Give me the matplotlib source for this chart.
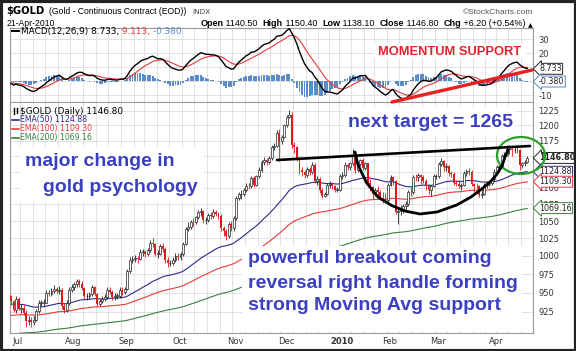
import numpy as np
import pandas as pd
import matplotlib
matplotlib.use('Agg')
import matplotlib.pyplot as plt
from matplotlib.patches import Rectangle, Ellipse

# daily closes / highs / lows, month by month (Jun 29 2009 - Apr 21 2010)
first_open = 945.0
c_jun = [939, 927]
h_jun = [947, 941]
l_jun = [934, 925]
c_jul = [942, 929, 930, 924, 913, 914, 912, 915, 926, 937, 937, 937, 950, 948, 952, 955, 952, 954, 932, 927, 937, 954]
h_jul = [945, 944, 935, 934, 927, 920, 918, 919, 929, 940, 941, 942, 953, 954, 956, 960, 958, 959, 956, 936, 941, 957]
l_jul = [924, 927, 924, 921, 906, 908, 905, 908, 913, 923, 932, 933, 936, 945, 946, 949, 949, 948, 929, 923, 925, 934]
c_aug = [957, 961, 966, 962, 956, 945, 946, 948, 957, 948, 935, 939, 942, 944, 953, 951, 944, 946, 946, 954, 951]
h_aug = [961, 964, 969, 968, 966, 958, 950, 951, 960, 959, 949, 942, 946, 948, 957, 958, 953, 949, 950, 957, 958]
l_aug = [951, 954, 958, 958, 953, 942, 941, 942, 946, 945, 932, 933, 936, 939, 942, 948, 941, 940, 942, 943, 947]
c_sep = [955, 979, 995, 996, 997, 996, 1006, 1006, 1003, 1008, 1019, 1017, 1003, 1003, 1014, 1010, 995, 990, 990, 994, 1000]
h_sep = [958, 982, 999, 1000, 1001, 1000, 1010, 1010, 1008, 1011, 1023, 1025, 1019, 1008, 1017, 1018, 1012, 998, 995, 998, 1004]
l_sep = [948, 954, 977, 990, 991, 990, 995, 1000, 998, 1000, 1006, 1012, 1000, 997, 1001, 1006, 990, 985, 986, 987, 992]
c_oct = [998, 1003, 1017, 1039, 1042, 1049, 1048, 1056, 1063, 1065, 1051, 1051, 1059, 1058, 1064, 1061, 1057, 1040, 1035, 1028, 1045, 1040]
h_oct = [1004, 1006, 1020, 1042, 1048, 1052, 1054, 1058, 1066, 1070, 1067, 1056, 1062, 1064, 1068, 1067, 1064, 1061, 1043, 1039, 1048, 1050]
l_oct = [994, 994, 1000, 1015, 1035, 1038, 1043, 1045, 1053, 1058, 1047, 1046, 1049, 1053, 1055, 1057, 1053, 1036, 1028, 1023, 1026, 1036]
c_nov = [1055, 1085, 1090, 1090, 1096, 1103, 1102, 1115, 1104, 1118, 1128, 1140, 1143, 1141, 1146, 1164, 1166, 1187, 1175, 1181]
h_nov = [1058, 1088, 1094, 1096, 1099, 1107, 1107, 1118, 1118, 1120, 1132, 1143, 1148, 1146, 1150, 1167, 1171, 1192, 1194, 1184]
l_nov = [1036, 1052, 1082, 1083, 1087, 1093, 1098, 1100, 1101, 1102, 1115, 1125, 1135, 1135, 1137, 1144, 1160, 1164, 1142, 1170]
c_dec = [1200, 1215, 1218, 1168, 1164, 1146, 1127, 1124, 1120, 1129, 1125, 1136, 1110, 1113, 1096, 1088, 1091, 1105, 1106, 1102, 1097, 1097]
h_dec = [1203, 1218, 1227, 1222, 1172, 1166, 1148, 1132, 1128, 1132, 1132, 1140, 1138, 1118, 1116, 1099, 1094, 1107, 1110, 1109, 1105, 1101]
l_dec = [1179, 1197, 1212, 1163, 1155, 1142, 1122, 1118, 1115, 1117, 1120, 1122, 1107, 1104, 1092, 1084, 1086, 1089, 1100, 1098, 1093, 1093]
c_jan = [1118, 1119, 1136, 1133, 1138, 1150, 1128, 1137, 1143, 1131, 1138, 1108, 1101, 1090, 1097, 1094, 1085, 1084, 1081]
h_jan = [1122, 1124, 1140, 1139, 1141, 1161, 1152, 1140, 1145, 1146, 1141, 1139, 1113, 1103, 1100, 1102, 1097, 1093, 1092]
l_jan = [1095, 1114, 1116, 1127, 1127, 1136, 1123, 1125, 1134, 1128, 1128, 1104, 1095, 1083, 1087, 1089, 1081, 1077, 1077]
c_feb = [1105, 1117, 1111, 1063, 1065, 1067, 1072, 1075, 1094, 1093, 1117, 1116, 1119, 1117, 1111, 1103, 1097, 1103, 1118]
h_feb = [1107, 1120, 1118, 1112, 1068, 1074, 1075, 1080, 1097, 1101, 1120, 1121, 1123, 1121, 1119, 1113, 1106, 1105, 1121]
l_feb = [1078, 1102, 1105, 1060, 1045, 1059, 1062, 1066, 1072, 1087, 1091, 1110, 1111, 1106, 1108, 1097, 1090, 1087, 1101]
c_mar = [1118, 1137, 1142, 1132, 1134, 1123, 1121, 1108, 1106, 1102, 1105, 1123, 1126, 1125, 1106, 1103, 1102, 1089, 1091, 1105, 1106, 1108, 1113]
h_mar = [1122, 1141, 1146, 1144, 1138, 1136, 1126, 1124, 1112, 1112, 1108, 1126, 1129, 1131, 1128, 1108, 1107, 1104, 1097, 1108, 1110, 1111, 1117]
l_mar = [1113, 1115, 1134, 1126, 1126, 1118, 1116, 1105, 1103, 1100, 1096, 1102, 1118, 1120, 1103, 1093, 1098, 1086, 1085, 1089, 1100, 1102, 1104]
c_apr = [1125, 1132, 1134, 1150, 1152, 1162, 1162, 1159, 1160, 1159, 1136, 1138, 1140.6, 1146.8]
h_apr = [1129, 1135, 1138, 1153, 1156, 1168, 1167, 1163, 1164, 1164, 1162, 1141, 1144, 1150.4]
l_apr = [1111, 1122, 1128, 1133, 1145, 1150, 1153, 1150, 1155, 1154, 1127, 1131, 1134, 1138.1]

holidays = ['2009-07-03', '2009-09-07', '2009-11-26', '2009-12-25',
            '2010-01-01', '2010-01-18', '2010-02-15', '2010-04-02']

ema50_start, ema100_start, ema200_start = 935.0, 920.0, 896.0
ema12_start, ema26_start, signal_start = 940.0, 942.0, -1.0

month_names = ['Jul', 'Aug', 'Sep', 'Oct', 'Nov', 'Dec', '2010', 'Feb', 'Mar', 'Apr']
price_ticks = [925, 950, 975, 1000, 1025, 1050, 1075, 1100, 1125, 1150, 1175, 1200, 1225]
macd_ticks = [-10, 0, 10, 20, 30]
# tick labels that sit fully under the last-value tags
hidden_price = [1125, 1150]
hidden_macd = [0, 10]

closes = np.array(c_jun + c_jul + c_aug + c_sep + c_oct + c_nov + c_dec + c_jan + c_feb + c_mar + c_apr, float)
highs = np.array(h_jun + h_jul + h_aug + h_sep + h_oct + h_nov + h_dec + h_jan + h_feb + h_mar + h_apr, float)
lows = np.array(l_jun + l_jul + l_aug + l_sep + l_oct + l_nov + l_dec + l_jan + l_feb + l_mar + l_apr, float)
opens = np.concatenate([[first_open], closes[:-1]])

dates = pd.bdate_range('2009-06-29', '2010-04-21')
dates = dates[~dates.isin(pd.to_datetime(holidays))]
x = np.arange(len(dates))


def ema(values, span, start):
    k = 2.0 / (span + 1)
    out = []
    e = start
    for v in values:
        e = e + k * (v - e)
        out.append(e)
    return np.array(out)


ema50 = ema(closes, 50, ema50_start)
ema100 = ema(closes, 100, ema100_start)
ema200 = ema(closes, 200, ema200_start)
macd = ema(closes, 12, ema12_start) - ema(closes, 26, ema26_start)
signal = ema(macd, 9, signal_start)
hist = macd - signal

week_starts = [i for i in range(len(dates)) if i == 0 or dates[i].weekday() < dates[i - 1].weekday()]
month_starts = [i for i in range(1, len(dates)) if dates[i].month != dates[i - 1].month]

W, H = 576, 351
fig = plt.figure(figsize=(W / 100, H / 100), dpi=100)


def px_axes(left, top, right, bottom):
    return [left / W, 1 - bottom / H, (right - left) / W, (bottom - top) / H]


grid_c = '#dcdcdc'
spine_c = '#9a9a9a'
blue_txt = '#3a40c0'

# ---- MACD panel
axm = fig.add_axes(px_axes(10, 28, 533, 102))
axm.bar(x, hist, width=0.75, color='#5b8cc8', lw=0, zorder=2)
axm.plot(x, signal, color='#e83a3a', lw=0.8, zorder=3)
axm.plot(x, macd, color='black', lw=1.0, zorder=4)
axm.set_ylim(-15, 37.9)
axm.set_xlim(-0.4, 206.3)
axm.set_yticks(macd_ticks)
axm.set_yticklabels(['' if t in hidden_macd else str(t) for t in macd_ticks])
axm.set_xticks([])
axm.grid(axis='y', color=grid_c, lw=0.6)
for i in week_starts:
    axm.axvline(i - 0.5, color=grid_c, lw=0.6, zorder=0)
axm.set_axisbelow(True)

# ---- price panel
ax = fig.add_axes(px_axes(10, 102, 533, 333))
up = closes >= opens
dn = ~up
ax.vlines(x[up], lows[up], highs[up], color='#222222', lw=0.6, zorder=3)
ax.vlines(x[dn], lows[dn], highs[dn], color='#e01818', lw=0.6, zorder=3)
ax.bar(x[up], np.maximum(closes - opens, 0.8)[up], bottom=opens[up], width=0.75,
       facecolor='white', edgecolor='#222222', lw=0.5, zorder=4)
ax.bar(x[dn], (opens - closes)[dn], bottom=closes[dn], width=0.75,
       color='#e01818', lw=0, zorder=4)
ax.plot(x, ema50, color='#2b2b8f', lw=0.8, zorder=2)
ax.plot(x, ema100, color='#e83a3a', lw=0.8, zorder=2)
ax.plot(x, ema200, color='#3d7f3d', lw=0.8, zorder=2)
ax.set_yscale('log')
ax.set_ylim(898, 1240)
ax.set_xlim(-0.4, 206.3)
ax.set_yticks(price_ticks)
ax.set_yticklabels(['' if t in hidden_price else str(t) for t in price_ticks])
ax.yaxis.set_minor_locator(matplotlib.ticker.NullLocator())
ax.grid(axis='y', color=grid_c, lw=0.6)
for i in week_starts:
    ax.axvline(i - 0.5, color=grid_c, lw=0.6, zorder=0)
ax.set_axisbelow(True)
ax.set_xticks([i + 0.7 for i in month_starts])
ax.set_xticklabels(month_names)
for lab in ax.get_xticklabels():
    if lab.get_text() == '2010':
        lab.set_fontweight('bold')

for a in (ax, axm):
    a.yaxis.tick_right()
    a.tick_params(axis='y', length=0, pad=4, labelsize=6, labelcolor='#333333')
    a.tick_params(axis='x', length=0, pad=3, labelsize=6, labelcolor='#333333')
    for s in a.spines.values():
        s.set_color(spine_c)
        s.set_linewidth(0.8)


def tag(a, y, text, ec, bold=False):
    a.text(1 + 6 / 523, y, text, transform=a.get_yaxis_transform(), ha='left', va='center',
           fontsize=5.8, fontweight='bold' if bold else 'normal', color='#222222',
           bbox=dict(boxstyle='larrow,pad=0.12', fc='white', ec=ec, lw=0.7),
           clip_on=False, zorder=20)


tag(ax, 1146.80, '1146.80', '#222222', bold=True)
tag(ax, 1124.88, '1124.88', '#2b2b8f')
tag(ax, 1109.30, '1109.30', '#e83a3a')
tag(ax, 1069.16, '1069.16', '#3d7f3d')
tag(axm, 8.733, '8.733', '#222222')
tag(axm, -0.380, '-0.380', '#5b8cc8')

# ---- overlay in pixel coordinates (annotations, header)
bg = fig.add_axes([0, 0, 1, 1], zorder=10)
bg.set_xlim(0, W)
bg.set_ylim(H, 0)
bg.axis('off')
bg.patch.set_alpha(0)

bg.add_patch(Rectangle((0.5, 0.5), W - 1, H - 1, fill=False, ec='#222222', lw=3))

bg.text(6, 14, '$GOLD', fontsize=7.2, fontweight='bold', va='baseline')
bg.text(49, 14, '(Gold - Continuous Contract (EOD))', fontsize=6.2, family='Liberation Sans', va='baseline')
bg.text(192, 14, 'INDX', fontsize=5.2, color='#444444', va='baseline')
bg.text(533, 14, '\u00a9StockCharts.com', fontsize=6, color='#555555', ha='right', va='baseline',
        family='Liberation Sans')
bg.text(7, 26, '21-Apr-2010', fontsize=6.2, family='Liberation Sans', va='baseline')

pieces = [('Open', True), (' 1140.50  ', False), ('High', True), (' 1150.40  ', False),
          ('Low', True), (' 1138.10  ', False), ('Close', True), (' 1146.80  ', False),
          ('Chg', True), (' +6.20 (+0.54%) ', False)]
prev = bg.text(533, 28, '\u25b2', fontsize=4.5, ha='right', va='bottom', family='DejaVu Sans')
for txt, bold in reversed(pieces):
    prev = bg.annotate(txt, xy=(0, 0), xycoords=prev, ha='right', va='bottom', fontsize=6.5,
                       fontweight='bold' if bold else 'normal', family='Liberation Sans')

# MACD legend
bg.plot([12, 19], [31, 31], color='black', lw=1.4)
t = bg.text(21, 31.5, 'MACD(12,26,9) 8.733,', fontsize=6.4, va='center')
t = bg.annotate(' 9.113,', xy=(1, 0.5), xycoords=t, va='center', fontsize=6.4, color='#e83a3a')
bg.annotate(' -0.380', xy=(1, 0.5), xycoords=t, va='center', fontsize=6.4, color='#5b8cc8')

# price legend
bg.plot([13.5, 13.5], [107.5, 114], color='black', lw=1)
bg.plot([16.5, 16.5], [108, 113], color='black', lw=1)
bg.text(20, 111, '$GOLD (Daily) 1146.80', fontsize=6.4, va='center')
for yy, lab, col in [(119.5, 'EMA(50) 1124.88', '#2b2b8f'),
                     (128.5, 'EMA(100) 1109.30', '#e83a3a'),
                     (137.5, 'EMA(200) 1069.16', '#3d7f3d')]:
    bg.plot([12, 19], [yy, yy], color=col, lw=1.2)
    bg.text(20, yy, lab, fontsize=5.6, color=col, va='center')

# text boxes
ann_font = dict(fontsize=14, fontweight='bold', color=blue_txt, family='Liberation Sans', va='baseline')
bg.add_patch(Rectangle((20, 147), 184, 55, fc='white', ec='none'))
bg.text(25, 166.5, 'major change in', **ann_font)
bg.text(43, 191.5, 'gold psychology', **ann_font)
bg.add_patch(Rectangle((343, 107), 172, 28, fc='white', ec='none'))
bg.text(348, 126.7, 'next target = 1265', **ann_font)
bg.add_patch(Rectangle((242, 246), 280, 85, fc='white', ec='none'))
bg.text(248, 263.3, 'powerful breakout coming', **ann_font)
bg.text(248, 287.7, 'reversal right handle forming', **ann_font)
bg.text(248, 310, 'strong Moving Avg support', **ann_font)
bg.add_patch(Rectangle((374, 43), 152, 15, fc='white', ec='none'))
bg.text(378, 55, 'MOMENTUM SUPPORT', fontsize=9.3, fontweight='bold', color='#e8202a',
        family='Liberation Sans', va='baseline')

# drawn lines: resistance, cup, momentum support, circle
bg.plot([277, 530], [160, 146], color='black', lw=1.9, solid_capstyle='round')
cup_x = [355, 358, 366.7, 378, 391.7, 405, 420, 437, 456.7, 471, 483, 491, 497, 502, 505, 508]
cup_y = [152, 165, 183, 197, 205.5, 211, 214, 212, 205, 197, 188, 181, 174, 166, 157, 150]
bg.plot(cup_x, cup_y, color='black', lw=2.0, solid_joinstyle='round', solid_capstyle='round')
bg.plot([392, 532], [102, 70], color='#e82020', lw=2.4, solid_capstyle='round')
bg.add_patch(Ellipse((521, 155.5), 48, 37, fill=False, ec='#2aa02a', lw=1.6))

fig.savefig('out.png', dpi=100)
